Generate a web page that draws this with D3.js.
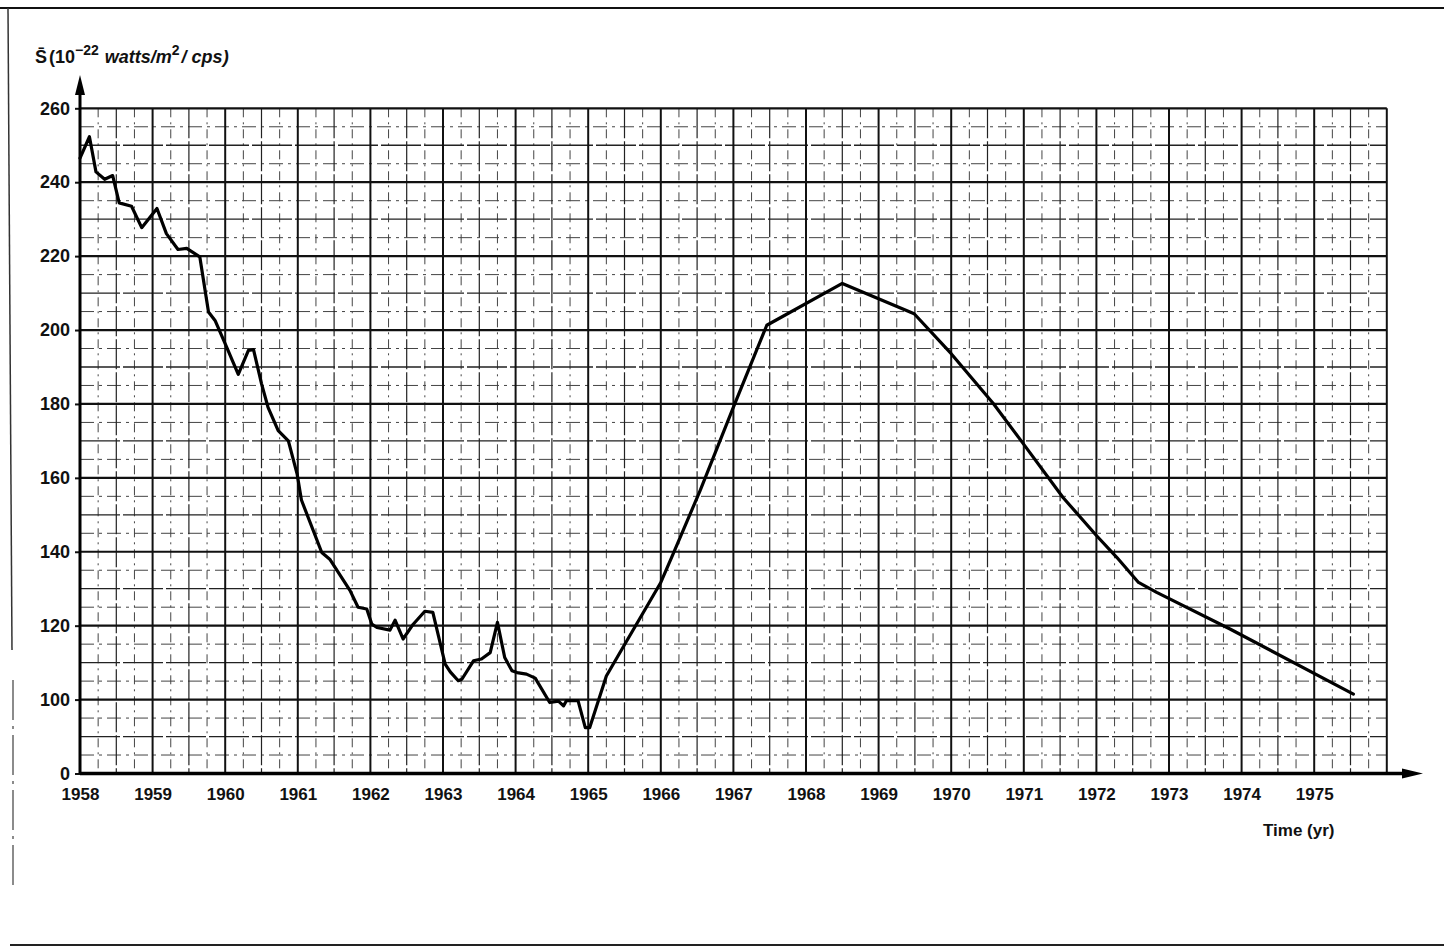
<!DOCTYPE html>
<head>
  <meta charset="utf-8">
  <title>Solar flux 1958-1975</title>
  <script src="https://d3js.org/d3.v7.min.js"></script>
  <style>
    body { margin: 0; background: #fff; }
    #chart { width: 1444px; height: 948px; display: block; }
    text { font-family: "Liberation Sans", Arial, sans-serif; font-weight: bold; fill: #111; }
  </style>
</head>

<body>
    <svg id="chart" width="1444" height="948"></svg>
    <script>
      // decimal year of each reading, and the flux
      var years = [
        1958.00, 1958.13, 1958.22, 1958.34, 1958.45, 1958.54, 1958.71, 1958.85,
        1959.06, 1959.19, 1959.35, 1959.47, 1959.65, 1959.77, 1959.86,
        1960.02, 1960.18, 1960.32, 1960.39, 1960.50, 1960.59, 1960.73, 1960.87, 1960.99,
        1961.05, 1961.33, 1961.44, 1961.72, 1961.83, 1961.95,
        1962.02, 1962.09, 1962.27, 1962.34, 1962.45, 1962.59, 1962.75, 1962.86,
        1963.03, 1963.10, 1963.21, 1963.26, 1963.42, 1963.53, 1963.65, 1963.75, 1963.85, 1963.95,
        1964.02, 1964.15, 1964.27, 1964.47, 1964.59, 1964.66, 1964.70, 1964.86, 1964.96, 1965.02,
        1965.25, 1965.46, 1966.00, 1966.17, 1966.54, 1966.79, 1967.01, 1967.46,
        1968.50, 1969.49, 1970.00, 1970.58, 1971.01, 1971.54, 1972.00, 1972.28,
        1972.58, 1972.83, 1973.84, 1975.54
      ];
      var flux = [
        246.5, 252.3, 242.8, 240.8, 241.8, 234.4, 233.5, 227.7,
        232.9, 226.1, 221.8, 222.1, 219.8, 204.9, 202.6,
        195.4, 188.0, 194.5, 194.7, 185.5, 179.1, 172.8, 170.0, 161.1,
        154.0, 139.8, 138.0, 129.5, 125.0, 124.5,
        120.4, 119.5, 118.8, 121.5, 116.4, 120.4, 123.9, 123.6,
        109.6, 107.5, 105.1, 105.5, 110.5, 111.0, 112.7, 120.9, 111.4, 107.8,
        107.3, 106.9, 105.8, 99.2, 99.6, 98.3, 99.7, 99.7, 92.4, 92.4,
        106.4, 113.5, 131.7, 139.4, 156.5, 168.8, 179.6, 201.3,
        212.6, 204.4, 193.6, 180.1, 168.8, 154.7, 144.4, 138.5,
        131.7, 129.0, 119.1, 101.5
      ];
      var yearTicks = d3.range(1958, 1976);
      var fluxTicks = [80, 100, 120, 140, 160, 180, 200, 220, 240, 260];

      var svg = d3.select("#chart");

      var x = d3.scaleLinear().domain([1958, 1976]).range([80, 1386.8]);
      // the bottom band is a broken axis: the "0" row sits where 80 would be
      var y = d3.scaleLinear().domain([80, 260]).range([773.5, 108.3]);

      // page frame lines of the scan
      svg.append("line").attr("x1", 0).attr("x2", 1444).attr("y1", 8).attr("y2", 8)
        .attr("stroke", "#111").attr("stroke-width", 2);
      svg.append("line").attr("x1", 10).attr("x2", 1444).attr("y1", 945).attr("y2", 945)
        .attr("stroke", "#222").attr("stroke-width", 2);
      svg.append("line").attr("x1", 8).attr("x2", 12).attr("y1", 8).attr("y2", 650)
        .attr("stroke", "#333").attr("stroke-width", 1.5);
      svg.append("line").attr("x1", 13).attr("x2", 13).attr("y1", 680).attr("y2", 885)
        .attr("stroke", "#666").attr("stroke-width", 1.5).attr("stroke-dasharray", "40,6,3,6");

      // grid: quarter years / 5 units dashed, half years / 10 units thin, years / 20 units thick
      var grid = svg.append("g");
      var q = d3.range(1958, 1976.001, 0.25);
      var v5 = d3.range(80, 260.001, 5);
      grid.selectAll(".vq").data(q.filter(function(d) { return d % 0.5 !== 0; }))
        .enter().append("line")
        .attr("x1", d => x(d)).attr("x2", d => x(d)).attr("y1", y(260)).attr("y2", y(80))
        .attr("stroke", "#444").attr("stroke-width", 1).attr("stroke-dasharray", "9,5,2,5");
      grid.selectAll(".hq").data(v5.filter(function(d) { return d % 10 !== 0; }))
        .enter().append("line")
        .attr("x1", x(1958)).attr("x2", x(1976)).attr("y1", d => y(d)).attr("y2", d => y(d))
        .attr("stroke", "#444").attr("stroke-width", 1).attr("stroke-dasharray", "14,5,3,5");
      grid.selectAll(".vh").data(q.filter(function(d) { return d % 0.5 === 0 && d % 1 !== 0; }))
        .enter().append("line")
        .attr("x1", d => x(d)).attr("x2", d => x(d)).attr("y1", y(260)).attr("y2", y(80))
        .attr("stroke", "#222").attr("stroke-width", 1.2).attr("stroke-dasharray", "30,3");
      grid.selectAll(".hh").data(v5.filter(function(d) { return d % 10 === 0 && d % 20 !== 0; }))
        .enter().append("line")
        .attr("x1", x(1958)).attr("x2", x(1976)).attr("y1", d => y(d)).attr("y2", d => y(d))
        .attr("stroke", "#222").attr("stroke-width", 1.3).attr("stroke-dasharray", "40,3");
      grid.selectAll(".vy").data(d3.range(1959, 1977))
        .enter().append("line")
        .attr("x1", d => x(d)).attr("x2", d => x(d)).attr("y1", y(260)).attr("y2", y(80))
        .attr("stroke", "#111").attr("stroke-width", 2);
      grid.selectAll(".hy").data(fluxTicks.filter(function(d) { return d > 80; }))
        .enter().append("line")
        .attr("x1", x(1958)).attr("x2", x(1976)).attr("y1", d => y(d)).attr("y2", d => y(d))
        .attr("stroke", "#111").attr("stroke-width", 2.2);

      // axes
      var yAxis = svg.append("g").attr("transform", "translate(" + x(1958) + ",0)")
        .call(d3.axisLeft(y).tickValues(fluxTicks).tickSize(5).tickPadding(5)
          .tickFormat(function(d) { return d === 80 ? "0" : d; }));
      yAxis.select(".domain").remove();
      yAxis.selectAll("line").attr("stroke", "#111").attr("stroke-width", 2);
      yAxis.selectAll("text").attr("font-size", 18).attr("fill", "#111")
        .style("font-family", "'Liberation Sans', Arial, sans-serif").style("font-weight", "bold");

      var xAxis = svg.append("g").attr("transform", "translate(0," + y(80) + ")")
        .call(d3.axisBottom(x).tickValues(yearTicks).tickSize(0).tickPadding(14)
          .tickFormat(d3.format("d")));
      xAxis.select(".domain").remove();
      xAxis.selectAll("text").attr("font-size", 17).attr("fill", "#111")
        .style("font-family", "'Liberation Sans', Arial, sans-serif").style("font-weight", "bold");

      // axis lines with arrow heads
      svg.append("line").attr("x1", x(1958)).attr("x2", x(1958)).attr("y1", y(80)).attr("y2", 90)
        .attr("stroke", "#000").attr("stroke-width", 3);
      svg.append("path").attr("d", d3.line()([[x(1958) - 5, 95], [x(1958), 75], [x(1958) + 5, 95]]) + "Z")
        .attr("fill", "#000");
      svg.append("line").attr("x1", x(1958)).attr("x2", 1408).attr("y1", y(80)).attr("y2", y(80))
        .attr("stroke", "#000").attr("stroke-width", 3.5);
      svg.append("path").attr("d", d3.line()([[1402, y(80) - 5], [1423, y(80)], [1402, y(80) + 5]]) + "Z")
        .attr("fill", "#000");

      // the series
      var pts = years.map(function(t, i) { return [t, flux[i]]; });
      svg.append("path").datum(pts)
        .attr("fill", "none").attr("stroke", "#000").attr("stroke-width", 3.2)
        .attr("stroke-linejoin", "round").attr("stroke-linecap", "round")
        .attr("d", d3.line().x(d => x(d[0])).y(d => y(d[1])));

      // labels
      var title = svg.append("text").attr("x", 35).attr("y", 63).attr("font-size", 18);
      title.append("tspan").text("S\u0304");
      title.append("tspan").attr("dx", 2).text("(10");
      title.append("tspan").attr("dy", -8).attr("font-size", 14).text("\u221222");
      title.append("tspan").attr("dy", 8).attr("dx", 6).attr("font-style", "italic").text("watts/m");
      title.append("tspan").attr("dy", -8).attr("font-size", 14).text("2");
      title.append("tspan").attr("dy", 8).attr("dx", 2).attr("font-style", "italic").text("/ cps)");

      svg.append("text").attr("x", 1263).attr("y", 836).attr("font-size", 17).text("Time (yr)");
    </script>
</body>
</html>
